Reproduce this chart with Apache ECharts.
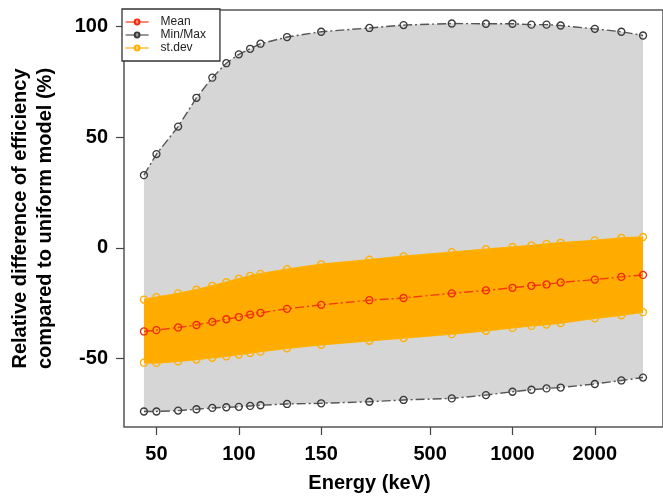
<!DOCTYPE html>
<html>
<head>
<meta charset="utf-8">
<script src="https://cdn.jsdelivr.net/npm/echarts@6/dist/echarts.min.js"></script>
<style>html,body{margin:0;padding:0;background:#fff;}#c{width:663px;height:498px;}</style>
</head>
<body>
<div id="c"></div>
<script>
// Energies (keV)
var energies = [45, 50, 60, 70, 80, 90, 100, 110, 120, 150, 200, 300, 400, 600, 800, 1000, 1173, 1332, 1500, 2000, 2500, 3000];
var meanVals = [-37.7, -37.1, -35.9, -34.8, -33.4, -32.2, -31.2, -30.1, -29.3, -27.5, -25.7, -23.6, -22.6, -20.5, -19.2, -18.0, -17.1, -16.5, -15.6, -14.3, -13.1, -12.2];
var maxVals = [32.8, 42.3, 54.7, 67.7, 76.8, 83.3, 87.3, 89.8, 92.1, 95.1, 97.5, 99.2, 100.5, 101.2, 101.1, 101.1, 100.7, 100.7, 100.3, 98.8, 97.5, 95.8];
var minVals = [-73.8, -73.8, -73.4, -72.8, -72.2, -71.9, -71.7, -71.3, -71.0, -70.4, -70.1, -69.4, -68.6, -67.9, -66.4, -64.9, -64.0, -63.4, -63.0, -61.4, -59.8, -58.5];
var sdUpper = [-23.3, -22.2, -20.5, -18.9, -17.1, -15.5, -13.9, -12.6, -11.7, -9.6, -7.4, -5.3, -3.8, -1.9, -0.6, 0.4, 1.1, 1.8, 2.3, 3.4, 4.5, 4.9];
var sdLower = [-51.8, -51.9, -51.2, -50.4, -49.6, -48.9, -48.1, -47.4, -46.8, -45.3, -43.7, -41.9, -40.7, -38.9, -37.4, -36.1, -35.2, -34.6, -33.9, -31.8, -30.4, -29.0];
// x tick positions and their printed labels
var xTickValues = [50, 100, 200, 500, 1000, 2000];
var xTickLabels = ['50', '100', '150', '500', '1000', '2000'];
var yTickValues = [-50, 0, 50, 100];

function pairs(vals) { return energies.map(function (e, i) { return [e, vals[i]]; }); }
function triples(lo, hi) { return energies.map(function (e, i) { return [e, lo[i], hi[i]]; }); }

var chart = echarts.init(document.getElementById('c'), null, { renderer: 'canvas' });
var bold = { fontFamily: 'Liberation Sans, Arial, sans-serif', fontWeight: 'bold', fontSize: 20, color: '#000' };

function bandSeries(name, lo, hi, col, z) {
  return {
    name: name, type: 'custom', z: z, silent: true, animation: false,
    data: triples(lo, hi),
    encode: { x: 0, y: [1, 2] },
    clip: true,
    renderItem: function (params, api) {
      if (params.dataIndex !== 0) return null;
      var pts = [], i, n = energies.length;
      for (i = 0; i < n; i++) pts.push(api.coord([energies[i], lo[i]]));
      for (i = n - 1; i >= 0; i--) pts.push(api.coord([energies[i], hi[i]]));
      return { type: 'polygon', shape: { points: pts }, style: { fill: col, stroke: null } };
    }
  };
}
function pointSeries(name, vals, col, lineCol, dash, z) {
  return {
    name: name, type: 'line', data: pairs(vals), z: z,
    symbol: 'circle', symbolSize: 7, showSymbol: true,
    itemStyle: { color: 'rgba(0,0,0,0)', borderColor: col, borderWidth: 1.3 },
    lineStyle: { color: lineCol, width: 1.4, type: dash },
    silent: true, animation: false
  };
}
var option = {
  animation: false,
  grid: { left: 122, right: -4, top: 10, bottom: 66, show: true, borderColor: '#555', borderWidth: 1.5, backgroundColor: '#fff' },
  legend: {
    data: ['Mean', 'Min/Max', 'st.dev'], orient: 'vertical', left: 122, top: 9,
    backgroundColor: '#fff', borderColor: '#333', borderWidth: 1.3, borderRadius: 0,
    padding: [7, 14, 7, 3], itemWidth: 23, itemHeight: 6, itemGap: 1,
    lineStyle: { type: 'solid', width: 1.2 },
    textStyle: { fontFamily: 'Liberation Sans, Arial, sans-serif', fontSize: 12, lineHeight: 12, color: '#222', padding: [0, 0, 0, 7] },
    selectedMode: false, z: 10
  },
  xAxis: {
    type: 'log', logBase: 10, min: 38.05, max: 3549,
    name: 'Energy (keV)', nameLocation: 'middle', nameGap: 46,
    nameTextStyle: Object.assign({}, bold, { padding: [0, 48, 0, 0] }),
    axisLine: { show: false, onZero: false },
    axisTick: { show: true, length: 8, lineStyle: { color: '#444', width: 1.2 }, customValues: xTickValues },
    axisLabel: {
      margin: 17, customValues: xTickValues,
      fontFamily: bold.fontFamily, fontWeight: 'bold', fontSize: 20, color: '#000',
      formatter: function (v) { var i = xTickValues.indexOf(Math.round(v)); return i >= 0 ? xTickLabels[i] : ''; }
    },
    splitLine: { show: false }, minorTick: { show: false }
  },
  yAxis: {
    type: 'value', min: -80.8, max: 107.3,
    name: 'Relative difference of efficiency\ncompared to uniform model (%)',
    nameLocation: 'middle', nameRotate: 90, nameGap: 66,
    nameTextStyle: Object.assign({}, bold, { lineHeight: 25 }),
    axisLine: { show: false, onZero: false },
    axisTick: { show: true, length: 8, lineStyle: { color: '#444', width: 1.2 }, customValues: yTickValues },
    axisLabel: { margin: 16, customValues: yTickValues, fontFamily: bold.fontFamily, fontWeight: 'bold', fontSize: 20, color: '#000' },
    splitLine: { show: false }
  },
  series: [
    bandSeries('gband', minVals, maxVals, '#d6d6d6', 1),
    bandSeries('oband', sdLower, sdUpper, '#ffab00', 2),
    pointSeries('Mean', meanVals, '#f02a10', '#f53c10', [9, 3, 2, 3], 5),
    pointSeries('Min/Max', minVals, '#3a3a3a', '#555', [9, 3, 2, 3], 4),
    pointSeries('Min/Max', maxVals, '#3a3a3a', '#555', [9, 3, 2, 3], 4),
    pointSeries('st.dev', sdLower, '#ffb000', '#ffb000', 'solid', 3),
    pointSeries('st.dev', sdUpper, '#ffb000', '#ffb000', 'solid', 3)
  ]
};
chart.setOption(option);
</script>
</body>
</html>
